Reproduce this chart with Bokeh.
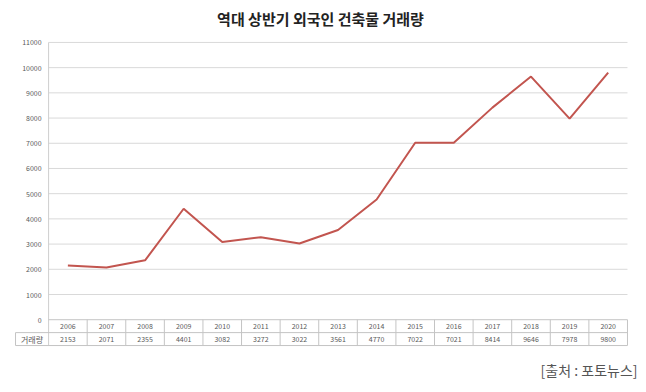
from bokeh.plotting import figure
from bokeh.models import Range1d, Title, ColumnDataSource
from bokeh.core.properties import value
from bokeh.embed import file_html
from bokeh.resources import INLINE

# ---- data ----
years = ["2006", "2007", "2008", "2009", "2010", "2011", "2012", "2013",
         "2014", "2015", "2016", "2017", "2018", "2019", "2020"]
volumes = [2153, 2071, 2355, 4401, 3082, 3272, 3022, 3561,
           4770, 7022, 7021, 8414, 9646, 7978, 9800]
y_ticks = [0, 1000, 2000, 3000, 4000, 5000, 6000, 7000, 8000, 9000, 10000, 11000]
row_header = "거래량"
title_text = "역대 상반기 외국인 건축물 거래량"
source_text = "[출처 : 포토뉴스]"

# ---- layout constants (pixels -> data units) ----
FONT = "Noto Sans CJK KR"
n = len(years)
PX_PER_CAT = 38.53
UNITS_PER_PX = 11000 / 279.0
ROW = 13 * UNITS_PER_PX           # table row height in data units
x_start = -0.5 - 48 / PX_PER_CAT
x_end = (n - 0.5) + 13 / PX_PER_CAT
y_end = y_ticks[-1] + 9 * UNITS_PER_PX
y_start = -33 * UNITS_PER_PX
header_left = -0.5 - 33 / PX_PER_CAT

p = figure(width=640, height=386,
           x_range=Range1d(x_start, x_end), y_range=Range1d(y_start, y_end),
           x_axis_type=None, y_axis_type=None,
           output_backend="svg", toolbar_location=None,
           min_border_left=0, min_border_right=0,
           min_border_top=30, min_border_bottom=34)
p.outline_line_color = None
p.background_fill_color = "white"
p.border_fill_color = "white"

p.add_layout(Title(text=title_text, align="center", text_font_size="15px",
                   text_font_style="bold", text_font=FONT, text_color="#222222",
                   standoff=10), "above")
p.add_layout(Title(text=source_text, align="right", text_font_size="14px",
                   text_font_style="normal", text_font=FONT, text_color="#555555",
                   standoff=10, offset=3), "below")

xs = list(range(n))
left_edge = -0.5
right_edge = n - 0.5

# gridlines
grid_y = [t for t in y_ticks if t > 0]
p.segment(x0=[left_edge] * len(grid_y), y0=grid_y,
          x1=[right_edge] * len(grid_y), y1=grid_y,
          line_color="#d9d9d9", line_width=1)
# vertical axis line
p.segment(x0=[left_edge], y0=[-2 * ROW], x1=[left_edge], y1=[y_ticks[-1]],
          line_color="#cfcfcf", line_width=1)

# table lines
p.segment(x0=[left_edge, header_left, header_left],
          y0=[0, -ROW, -2 * ROW],
          x1=[right_edge, right_edge, right_edge],
          y1=[0, -ROW, -2 * ROW],
          line_color="#c4c4c4", line_width=1)
vx = [i + 0.5 for i in xs]
p.segment(x0=vx, y0=[-2 * ROW] * n, x1=vx, y1=[0] * n,
          line_color="#c4c4c4", line_width=1)
p.segment(x0=[header_left], y0=[-2 * ROW], x1=[header_left], y1=[-ROW],
          line_color="#c4c4c4", line_width=1)

# table text
p.text(x=xs, y=[-ROW / 2] * n, text=years, text_align="center",
       text_baseline="middle", text_font=value(FONT), text_font_size="7px",
       text_color="#595959")
p.text(x=xs, y=[-1.5 * ROW] * n, text=[str(v) for v in volumes],
       text_align="center", text_baseline="middle", text_font=value(FONT),
       text_font_size="7px", text_color="#595959")
p.text(x=[(header_left + left_edge) / 2], y=[-1.5 * ROW], text=[row_header],
       text_align="center", text_baseline="middle", text_font=value(FONT),
       text_font_size="8px", text_color="#595959")

# y tick labels
p.text(x=[left_edge] * len(y_ticks), y=y_ticks, text=[str(t) for t in y_ticks],
       x_offset=-7, text_align="right", text_baseline="middle",
       text_font=value(FONT), text_font_size="7px", text_color="#595959")

# data line
src = ColumnDataSource(dict(x=xs, y=volumes))
p.line("x", "y", source=src, line_color="#c2554f", line_width=2)

open("out.html", "w").write(file_html(p, INLINE))
